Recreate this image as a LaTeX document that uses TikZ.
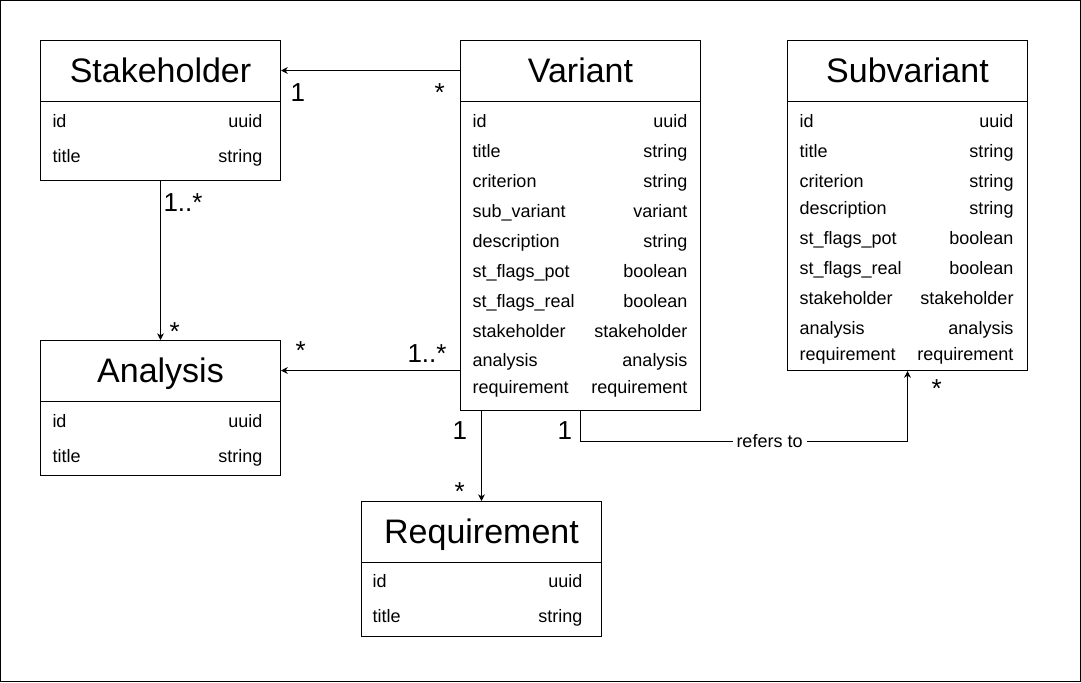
\documentclass[tikz,border=0pt]{standalone}
\usepackage{fontspec}
\setmainfont{Liberation Sans}
\usetikzlibrary{arrows.meta,positioning}

\begin{document}
\begin{tikzpicture}[x=0.75pt,y=-0.75pt,line width=0.75pt,
    box/.style={draw,anchor=north west,minimum width=180pt,inner sep=0pt},
    head/.style={anchor=north west,minimum width=180pt,inner sep=0pt,text height=31.5pt,text depth=13.5pt,font=\fontsize{25.5}{30}\selectfont},
    field/.style={inner sep=0pt,font=\fontsize{13.5}{16}\selectfont},
    mult/.style={inner sep=0pt,anchor=base west,font=\fontsize{19.5}{23}\selectfont},
    assoc/.style={-{Stealth[length=5pt,width=5pt,inset=1.5pt]}}]
    %\draw[help lines] (0,0) grid (1081,682);
    \useasboundingbox (0,0) rectangle (1081,682);
    \draw (0.5,0.5) rectangle (1080.5,681.5);

    % Stakeholder
    \node[box,minimum height=105pt] (stake) at (40,40) {};
    \node[head] (stake-h) at (40,40) {Stakeholder};
    \draw (stake-h.south west) -- (stake-h.south east);
    \foreach \n/\t/\y in {id/uuid/127,title/string/162}{
    	\node[field,anchor=base west] (stake-n\y) at (52,\y) {\n};
    	\node[field,anchor=base east] (stake-t\y) at (263,\y) {\t};
    }

    % Variant
    \node[box,minimum height=277.5pt] (var) at (460,40) {};
    \node[head] (var-h) at (460,40) {Variant};
    \draw (var-h.south west) -- (var-h.south east);
    \foreach \n/\t/\y in {id/uuid/127,title/string/157,criterion/string/187,sub\_variant/variant/217,
    	description/string/247,st\_flags\_pot/boolean/277,st\_flags\_real/boolean/307,
    	stakeholder/stakeholder/337,analysis/analysis/366,requirement/requirement/393}{
    	\node[field,anchor=base west] (var-n\y) at (472,\y) {\n};
    	\node[field,anchor=base east] (var-t\y) at (688,\y) {\t};
    }

    % Subvariant
    \node[box,minimum height=247.5pt] (sub) at (787,40) {};
    \node[head] (sub-h) at (787,40) {Subvariant};
    \draw (sub-h.south west) -- (sub-h.south east);
    \foreach \n/\t/\y in {id/uuid/127,title/string/157,criterion/string/187,description/string/214,
    	st\_flags\_pot/boolean/244,st\_flags\_real/boolean/274,stakeholder/stakeholder/304,
    	analysis/analysis/334,requirement/requirement/360}{
    	\node[field,anchor=base west] (sub-n\y) at (799,\y) {\n};
    	\node[field,anchor=base east] (sub-t\y) at (1014,\y) {\t};
    }

    % Analysis
    \node[box,minimum height=101.25pt] (ana) at (40,340) {};
    \node[head] (ana-h) at (40,340) {Analysis};
    \draw (ana-h.south west) -- (ana-h.south east);
    \foreach \n/\t/\y in {id/uuid/427,title/string/462}{
    	\node[field,anchor=base west] (ana-n\y) at (52,\y) {\n};
    	\node[field,anchor=base east] (ana-t\y) at (263,\y) {\t};
    }

    % Requirement
    \node[box,minimum height=101.25pt] (req) at (361,501) {};
    \node[head] (req-h) at (361,501) {Requirement};
    \draw (req-h.south west) -- (req-h.south east);
    \foreach \n/\t/\y in {id/uuid/587,title/string/622}{
    	\node[field,anchor=base west] (req-n\y) at (372,\y) {\n};
    	\node[field,anchor=base east] (req-t\y) at (583,\y) {\t};
    }

    % associations
    \draw[assoc] (var-h.west) -- (stake-h.east);
    \draw[assoc] (stake.south) -- (ana.north);
    \draw[assoc] (var.west |- ana-h.east) -- (ana-h.east);
    \draw[assoc] (var.south -| req.north) -- (req.north);
    \draw[assoc] (var.south) -- ++(0,30) coordinate (bend) -- (bend -| sub.south)
    	node[field,pos=0.578,fill=white,inner xsep=3pt] (refers) {refers to} -- (sub.south);

    % multiplicities
    \node[mult] (m-vs1) at (290,101) {1};
    \node[mult] (m-vs2) at (434,101) {*};
    \node[mult] (m-sa1) at (163,211) {1..*};
    \node[mult] (m-sa2) at (169,340) {*};
    \node[mult] (m-va1) at (295,359) {*};
    \node[mult] (m-va2) at (407,362) {1..*};
    \node[mult] (m-vr1) at (452,439) {1};
    \node[mult] (m-vr2) at (454,500) {*};
    \node[mult] (m-vb1) at (557,439) {1};
    \node[mult] (m-vb2) at (931,397) {*};
\end{tikzpicture}
\end{document}
